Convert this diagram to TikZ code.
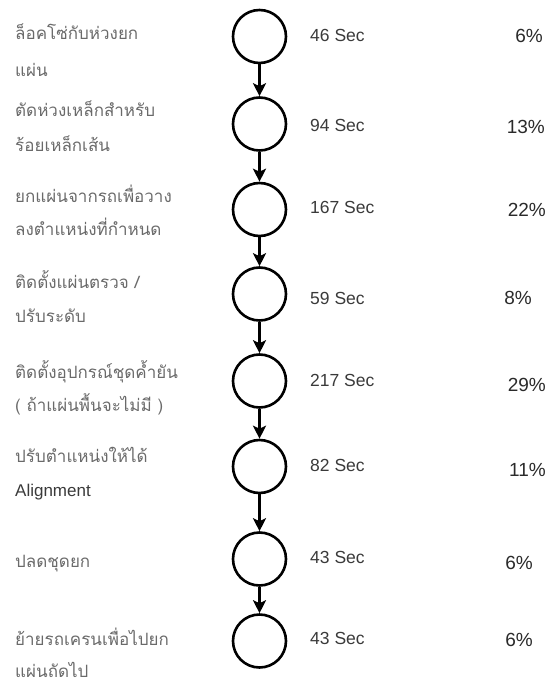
\documentclass[tikz,border=0pt]{standalone}
\usepackage{fontspec}
\setmainfont{Liberation Sans}
\newfontfamily\thaifont[Script=Thai]{Loma}
\usetikzlibrary{arrows.meta}
\definecolor{thaigray}{HTML}{6A6A6A}
\definecolor{secgray}{HTML}{3A3A3A}
\definecolor{pctgray}{HTML}{2A2A2A}
\begin{document}
\begin{tikzpicture}[x=1pt,y=-1pt,
  stepcircle/.style={circle,draw=black,line width=2.6pt,minimum size=53pt,inner sep=0pt},
  flow/.style={line width=2.2pt,-{Stealth[length=13pt,width=13pt,inset=3pt]}},
  thai/.style={anchor=base west,inner sep=0pt,text=thaigray,font=\thaifont\fontsize{17}{19}\selectfont},
  sec/.style={anchor=west,inner sep=0pt,text=secgray,font=\fontsize{17.5}{20}\selectfont},
  pct/.style={anchor=east,inner sep=0pt,text=pctgray,font=\fontsize{19}{22}\selectfont}]
\useasboundingbox (0,0) rectangle (550,684);
% circles
\node[stepcircle] (c1) at (259.5,36.5) {};
\node[stepcircle] (c2) at (259.5,124) {};
\node[stepcircle] (c3) at (259.5,209.5) {};
\node[stepcircle] (c4) at (259.5,294) {};
\node[stepcircle] (c5) at (259.5,381) {};
\node[stepcircle] (c6) at (259.5,466.5) {};
\node[stepcircle] (c7) at (259.5,559) {};
\node[stepcircle] (c8) at (259.5,641) {};
% connectors
\draw[flow] (c1) -- (c2);
\draw[flow] (c2) -- (c3);
\draw[flow] (c3) -- (c4);
\draw[flow] (c4) -- (c5);
\draw[flow] (c5) -- (c6);
\draw[flow] (c6) -- (c7);
\draw[flow] (c7) -- (c8);
% times
\node[sec] (s1) at (310,35) {46 Sec};
\node[sec] (s2) at (310,125) {94 Sec};
\node[sec] (s3) at (310,207) {167 Sec};
\node[sec] (s4) at (310,298) {59 Sec};
\node[sec] (s5) at (310,380) {217 Sec};
\node[sec] (s6) at (310,465) {82 Sec};
\node[sec] (s7) at (310,557) {43 Sec};
\node[sec] (s8) at (310,638) {43 Sec};
% percentages
\node[pct] (p1) at (543,36) {6\%};
\node[pct] (p2) at (545,127) {13\%};
\node[pct] (p3) at (546,210) {22\%};
\node[pct] (p4) at (532,298) {8\%};
\node[pct] (p5) at (546,385) {29\%};
\node[pct] (p6) at (546,470) {11\%};
\node[pct] (p7) at (533,563) {6\%};
\node[pct] (p8) at (533,640) {6\%};
% step descriptions
\node[thai] (t1a) at (15,40) {ล็อคโซ่กับห่วงยก};
\node[thai] (t1b) at (15,77) {แผ่น};
\node[thai] (t2a) at (15,117) {ตัดห่วงเหล็กสำหรับ};
\node[thai] (t2b) at (15,152) {ร้อยเหล็กเส้น};
\node[thai] (t3a) at (15,203) {ยกแผ่นจากรถเพื่อวาง};
\node[thai] (t3b) at (15,236) {ลงตำแหน่งที่กำหนด};
\node[thai] (t4a) at (15,288) {ติดตั้งแผ่นตรวจ /};
\node[thai] (t4b) at (15,322) {ปรับระดับ};
\node[thai] (t5a) at (15,378) {ติดตั้งอุปกรณ์ชุดค้ำยัน};
\node[thai] (t5b) at (15,411) {( ถ้าแผ่นพื้นจะไม่มี )};
\node[thai] (t6a) at (15,462) {ปรับตำแหน่งให้ได้};
\node[thai,font=\fontsize{17}{19}\selectfont,text=secgray] (t6b) at (15,496) {Alignment};
\node[thai] (t7a) at (15,567) {ปลดชุดยก};
\node[thai] (t8a) at (15,645) {ย้ายรถเครนเพื่อไปยก};
\node[thai] (t8b) at (15,677) {แผ่นถัดไป};
\end{tikzpicture}
\end{document}
